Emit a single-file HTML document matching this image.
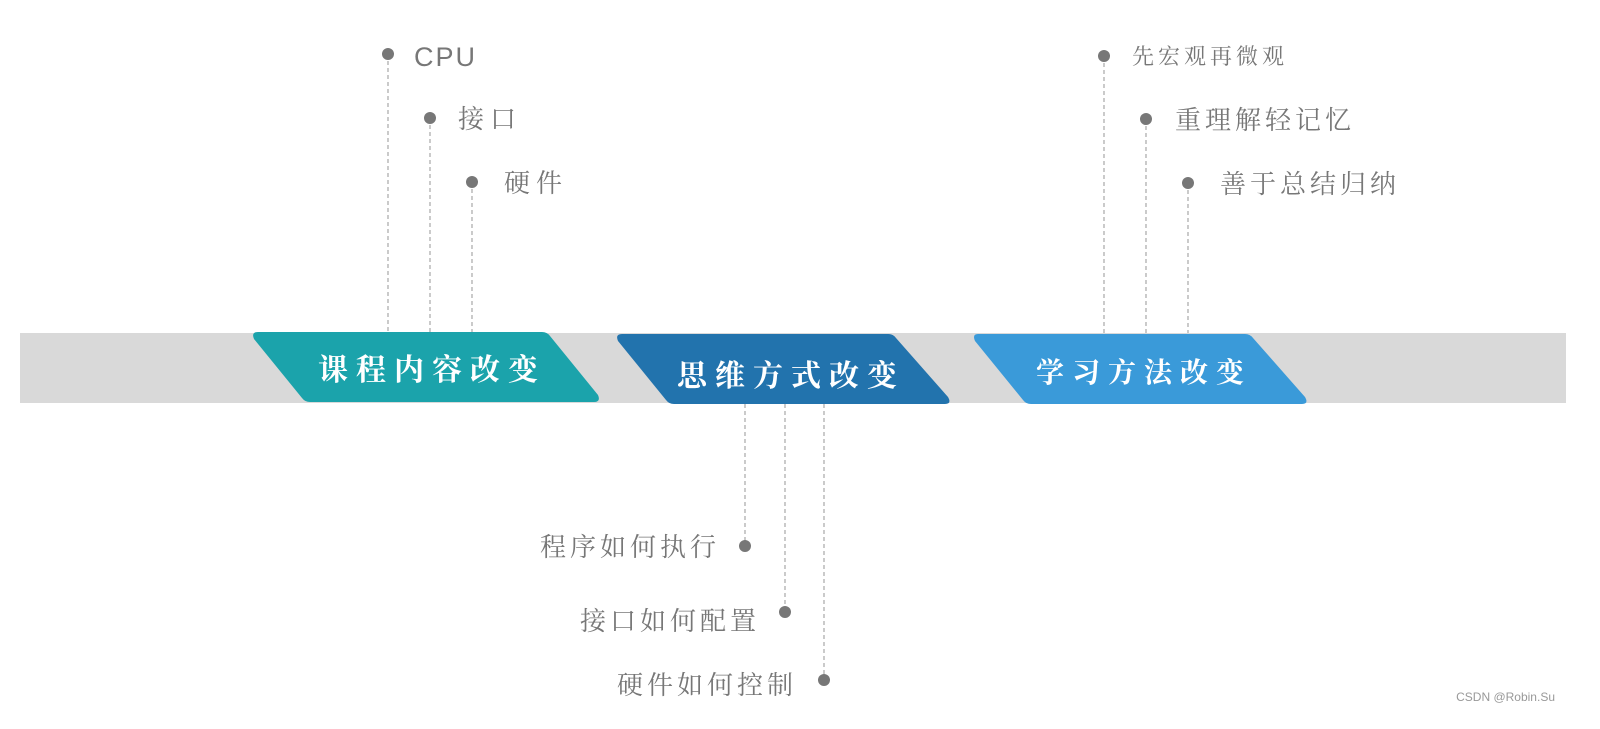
<!DOCTYPE html>
<html><head><meta charset="utf-8"><style>
html,body{margin:0;padding:0;background:#fff;width:1600px;height:729px;overflow:hidden;}
svg{display:block}
.t{font-family:"Liberation Serif","Noto Serif CJK SC",serif;fill:#777;}
.h{font-family:"Liberation Serif","Noto Serif CJK SC",serif;fill:#fff;font-weight:bold;font-size:30px;letter-spacing:8px}
</style></head><body>
<svg width="1600" height="729" viewBox="0 0 1600 729" xmlns="http://www.w3.org/2000/svg">
<rect x="20" y="333" width="1546" height="70" fill="#d9d9d9"/>
<g stroke="#a8a8a8" stroke-width="1.2" stroke-dasharray="4,3" fill="none">
<line x1="388" y1="54" x2="388" y2="333"/>
<line x1="430" y1="118" x2="430" y2="333"/>
<line x1="472" y1="182" x2="472" y2="333"/>
<line x1="1104" y1="56" x2="1104" y2="333"/>
<line x1="1146" y1="119" x2="1146" y2="333"/>
<line x1="1188" y1="183" x2="1188" y2="333"/>
<line x1="745" y1="404" x2="745" y2="546"/>
<line x1="785" y1="404" x2="785" y2="612"/>
<line x1="824" y1="404" x2="824" y2="680"/>
</g>
<path d="M258,332 L542,332 Q547,332 550,336 L598,395 Q601,402 594,402 L310,402 Q305,402 302,398 L254,339 Q251,332 258,332Z" fill="#1ba3ab"/>
<path d="M622,334 L888,334 Q893,334 896,338 L948,397 Q952,404 945,404 L674,404 Q669,404 666,400 L618,341 Q615,334 622,334Z" fill="#2273ad"/>
<path d="M978,334 L1245,334 Q1250,334 1253,338 L1305,397 Q1309,404 1302,404 L1031,404 Q1026,404 1023,400 L975,341 Q972,334 978,334Z" fill="#3a9ad9"/>
<text class="h" x="318" y="380">课程内容改变</text>
<text class="h" x="677" y="386">思维方式改变</text>
<text class="h" x="1036" y="382" style="font-size:28px">学习方法改变</text>
<g fill="#777">
<circle cx="388" cy="54" r="6"/><circle cx="430" cy="118" r="6"/><circle cx="472" cy="182" r="6"/>
<circle cx="1104" cy="56" r="6"/><circle cx="1146" cy="119" r="6"/><circle cx="1188" cy="183" r="6"/>
<circle cx="745" cy="546" r="6"/><circle cx="785" cy="612" r="6"/><circle cx="824" cy="680" r="6"/>
</g>
<text x="414" y="66" style="font-family:'Liberation Sans',sans-serif;font-size:27px;fill:#777;letter-spacing:2px">CPU</text>
<text class="t" x="458" y="128" style="font-size:26px;letter-spacing:6px">接口</text>
<text class="t" x="504" y="192" style="font-size:26px;letter-spacing:6px">硬件</text>
<text class="t" x="1132" y="64" style="font-size:22px;letter-spacing:4px">先宏观再微观</text>
<text class="t" x="1175" y="129" style="font-size:26px;letter-spacing:4px">重理解轻记忆</text>
<text class="t" x="1220" y="193" style="font-size:26px;letter-spacing:4px">善于总结归纳</text>
<text class="t" x="720" y="556" text-anchor="end" style="font-size:26px;letter-spacing:4px">程序如何执行</text>
<text class="t" x="760" y="630" text-anchor="end" style="font-size:26px;letter-spacing:4px">接口如何配置</text>
<text class="t" x="797" y="694" text-anchor="end" style="font-size:26px;letter-spacing:4px">硬件如何控制</text>
<text x="1555" y="701" text-anchor="end" style="font-family:'Liberation Sans',sans-serif;font-size:12px;fill:#999">CSDN @Robin.Su</text>
</svg>
</body></html>
